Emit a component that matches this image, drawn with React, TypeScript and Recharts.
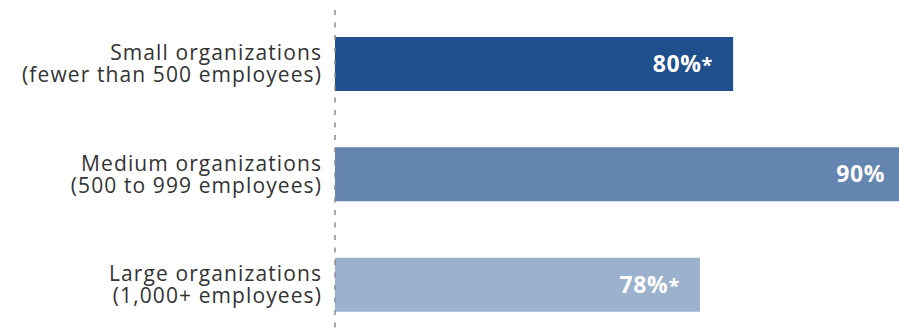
import { Bar, BarChart, Cell, LabelList, ReferenceLine, XAxis, YAxis } from 'recharts';

// Organization size groups (two-line labels)
const grupos = [
  ['Small organizations', '(fewer than 500 employees)'],
  ['Medium organizations', '(500 to 999 employees)'],
  ['Large organizations', '(1,000+ employees)'],
];
const valores = [80, 90, 78];
// asterisk = significant difference marker
const asterisco = [true, false, true];
const colores = ['#1F4F8D', '#6385B0', '#9BB1CE'];

const filas = grupos.map((g, i) => ({
  id: String(i),
  valor: valores[i],
  marca: asterisco[i],
}));

const FUENTE = '"Open Sans", sans-serif';

function Etiqueta(props: any) {
  const { y, payload } = props;
  const lineas = grupos[Number(payload.value)];
  const x = 322;
  const estilo = {
    textAnchor: 'end' as const,
    fill: '#333',
    fontFamily: FUENTE,
    fontSize: 21,
    letterSpacing: 1.1,
  };
  return (
    <g>
      <text x={x} y={y - 4} {...estilo}>
        {lineas[0]}
      </text>
      <text x={x} y={y + 18} {...estilo}>
        {lineas[1]}
      </text>
    </g>
  );
}

function Valor(props: any) {
  const { x, y, width, height, index } = props;
  const marca = asterisco[index];
  const fin = x + width - (marca ? 20 : 14);
  return (
    <text
      x={fin}
      y={y + height / 2 + 8}
      textAnchor="end"
      fill="#fff"
      fontFamily={FUENTE}
      fontWeight={700}
      fontSize={23}
      letterSpacing={0.6}
    >
      {valores[index]}%
      {marca && <tspan fontSize={20}>*</tspan>}
    </text>
  );
}

export default function App() {
  return (
    <div
      style={{
        position: 'absolute',
        top: 0,
        left: 0,
        width: 899,
        height: 330,
        overflow: 'hidden',
        background: '#fff',
      }}
    >
      <BarChart
        width={899}
        height={340}
        data={filas}
        layout="vertical"
        margin={{ top: 9, right: 0, bottom: 0, left: 0 }}
        barSize={54}
      >
        <XAxis type="number" domain={[56, 90]} hide allowDataOverflow />
        <YAxis
          type="category"
          dataKey="id"
          width={335}
          axisLine={false}
          tickLine={false}
          tick={<Etiqueta />}
        />
        <ReferenceLine
          x={56}
          stroke="#8a8a8a"
          strokeWidth={1.5}
          strokeDasharray="5 7.5"
          ifOverflow="extendDomain"
        />
        <Bar dataKey="valor" isAnimationActive={false}>
          {filas.map((f, i) => (
            <Cell key={f.id} fill={colores[i]} />
          ))}
          <LabelList dataKey="valor" content={<Valor />} />
        </Bar>
      </BarChart>
    </div>
  );
}
